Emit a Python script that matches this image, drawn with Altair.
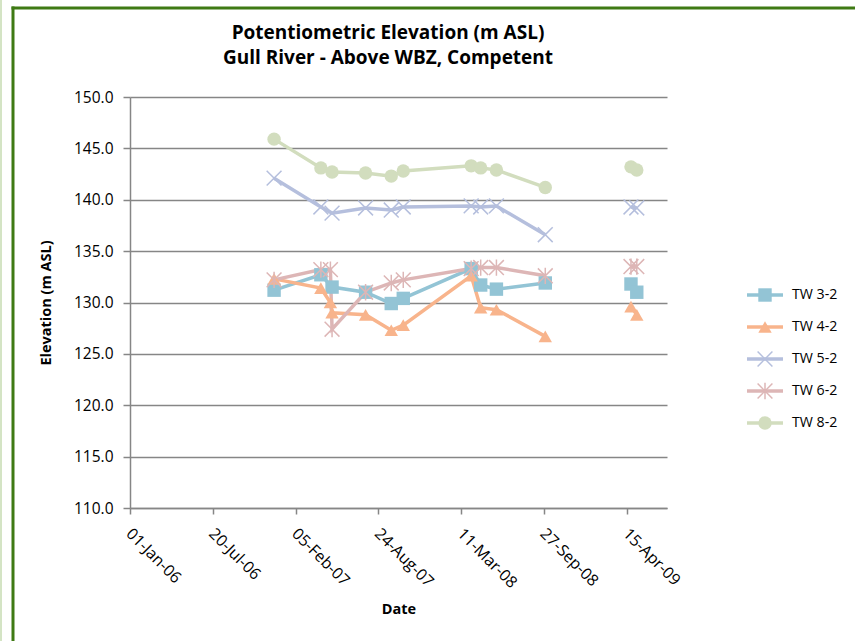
import altair as alt
import pandas as pd

# ---- data ----
series_names = ["TW 3-2", "TW 4-2", "TW 5-2", "TW 6-2", "TW 8-2"]
series_colors = ["#93C4D5", "#F8B48C", "#B5BFDD", "#DDB6B6", "#D2DDBE"]

tw32_dates = ["2006-12-15", "2007-04-07", "2007-05-04", "2007-07-24", "2007-09-24", "2007-10-23",
              "2008-04-04", "2008-04-27", "2008-06-04", "2008-09-30", "2009-04-25", "2009-05-09"]
tw32_vals = [131.2, 132.7, 131.5, 131.0, 129.9, 130.4, 133.3, 131.7, 131.3, 131.9, 131.8, 131.0]

tw42_dates = ["2006-12-15", "2007-04-07", "2007-04-30", "2007-05-04", "2007-07-24", "2007-09-24",
              "2007-10-23", "2008-04-04", "2008-04-27", "2008-06-04", "2008-09-30", "2009-04-25", "2009-05-09"]
tw42_vals = [132.3, 131.4, 130.0, 129.0, 128.8, 127.3, 127.8, 132.6, 129.5, 129.3, 126.7, 129.6, 128.8]

tw52_dates = ["2006-12-15", "2007-04-07", "2007-05-04", "2007-07-24", "2007-09-24", "2007-10-23",
              "2008-04-04", "2008-04-27", "2008-06-04", "2008-09-30", "2009-04-25", "2009-05-09"]
tw52_vals = [142.1, 139.3, 138.7, 139.2, 139.0, 139.3, 139.4, 139.3, 139.4, 136.6, 139.3, 139.2]

tw62_dates = ["2006-12-15", "2007-04-07", "2007-04-30", "2007-05-04", "2007-07-24", "2007-09-24",
              "2007-10-23", "2008-04-04", "2008-04-27", "2008-06-04", "2008-09-30", "2009-04-25", "2009-05-09"]
tw62_vals = [132.2, 133.2, 133.2, 127.4, 131.0, 131.9, 132.2, 133.3, 133.4, 133.4, 132.6, 133.5, 133.5]

tw82_dates = ["2006-12-15", "2007-04-07", "2007-05-04", "2007-07-24", "2007-09-24", "2007-10-23",
              "2008-04-04", "2008-04-27", "2008-06-04", "2008-09-30", "2009-04-25", "2009-05-09"]
tw82_vals = [145.9, 143.1, 142.7, 142.6, 142.3, 142.8, 143.3, 143.1, 142.9, 141.2, 143.2, 142.9]

gap_start = "2009-01-01"  # readings after this are not joined to earlier ones

x_tick_dates = [(2006, 1, 1), (2006, 7, 20), (2007, 2, 5), (2007, 8, 24),
                (2008, 3, 11), (2008, 9, 27), (2009, 4, 15)]
y_ticks = [110, 115, 120, 125, 130, 135, 140, 145, 150]

title_lines = ["Potentiometric Elevation (m ASL)", "Gull River - Above WBZ, Competent"]

# ---- build table ----
rows = []
for name, ds, vs in zip(series_names,
                        [tw32_dates, tw42_dates, tw52_dates, tw62_dates, tw82_dates],
                        [tw32_vals, tw42_vals, tw52_vals, tw62_vals, tw82_vals]):
    for d, v in zip(ds, vs):
        rows.append({"series": name, "date": d, "value": v,
                     "seg": 2 if d >= gap_start else 1})
df = pd.DataFrame(rows)
legend_df = pd.DataFrame({"series": series_names})

FONT = "Open Sans"
color_scale = alt.Scale(domain=series_names, range=series_colors)
color = alt.Color("series:N", scale=color_scale, legend=None)

x_enc = alt.X(
    "date:T",
    title="Date",
    scale=alt.Scale(type="utc",
                    domain=[alt.DateTime(year=2006, month=1, date=1, utc=True),
                            alt.DateTime(year=2009, month=7, date=21, utc=True)]),
    axis=alt.Axis(values=[alt.DateTime(year=y, month=m, date=d, utc=True) for y, m, d in x_tick_dates],
                  format="%d-%b-%y", labelAngle=45, labelAlign="left", labelBaseline="top",
                  labelFontSize=16, labelOffset=4, grid=False, tickSize=6, labelPadding=11,
                  titlePadding=12),
)
y_enc = alt.Y(
    "value:Q",
    title="Elevation (m ASL)",
    scale=alt.Scale(domain=[110, 150], nice=False, zero=False),
    axis=alt.Axis(values=y_ticks, format=".1f", grid=True, tickSize=7, labelPadding=10,
                  labelFontSize=15.5, titlePadding=20),
)

base = alt.Chart(df)
lines = base.mark_line(strokeWidth=3.5, clip=False).encode(
    x=x_enc, y=y_enc, color=color, detail="seg:N", order="date:T")

shape_scale = alt.Scale(
    domain=series_names,
    range=["square", "triangle-up", "M-1,-1L1,1M-1,1L1,-1",
           "M-1,-1L1,1M-1,1L1,-1M0,-1.1L0,1.1", "circle"])

filled_pts = base.transform_filter(
    alt.FieldOneOfPredicate(field="series", oneOf=["TW 3-2", "TW 4-2", "TW 8-2"])
).mark_point(filled=True, opacity=1, size=180).encode(
    x="date:T", y="value:Q", color=color,
    shape=alt.Shape("series:N", scale=shape_scale, legend=None))

stroked_pts = base.transform_filter(
    alt.FieldOneOfPredicate(field="series", oneOf=["TW 5-2", "TW 6-2"])
).mark_point(filled=False, opacity=1, size=220, strokeWidth=1.5).encode(
    x="date:T", y="value:Q", color=color,
    shape=alt.Shape("series:N", scale=shape_scale, legend=None))

main = alt.layer(lines, filled_pts, stroked_pts)

# ---- custom legend (line + marker + label) ----
leg_y = alt.Y("series:N", axis=None, scale=alt.Scale(type="point", domain=series_names,
                                                        range=[198, 326], padding=0))
lb = alt.Chart(legend_df)
leg_line = lb.mark_rule(strokeWidth=3.5).encode(
    y=leg_y, x=alt.value(617), x2=alt.value(653), color=color)
leg_filled = lb.transform_filter(
    alt.FieldOneOfPredicate(field="series", oneOf=["TW 3-2", "TW 4-2", "TW 8-2"])
).mark_point(filled=True, opacity=1, size=180).encode(
    y=leg_y, x=alt.value(635), color=color,
    shape=alt.Shape("series:N", scale=shape_scale, legend=None))
leg_stroked = lb.transform_filter(
    alt.FieldOneOfPredicate(field="series", oneOf=["TW 5-2", "TW 6-2"])
).mark_point(filled=False, opacity=1, size=220, strokeWidth=1.5).encode(
    y=leg_y, x=alt.value(635), color=color,
    shape=alt.Shape("series:N", scale=shape_scale, legend=None))
leg_text = lb.mark_text(align="left", baseline="middle", font=FONT, fontSize=14.2,
                        color="#000000").encode(
    y=leg_y, x=alt.value(662), text="series:N")
legend_layer = alt.layer(leg_line, leg_filled, leg_stroked, leg_text)

# ---- title as text ----
title_df = pd.DataFrame({"line": title_lines})
title_y = alt.Y("line:N", axis=None, scale=alt.Scale(type="point", domain=title_lines,
                                                       range=[-64, -39], padding=0))
title_layer = alt.Chart(title_df).mark_text(
    align="center", baseline="middle", font=FONT, fontSize=19, fontWeight="bold",
    color="#000000").encode(y=title_y, x=alt.value(258), text="line:N")

# ---- outer frame (top and left edges visible) ----
frame_df = pd.DataFrame({"k": [0]})
frame_top = alt.Chart(frame_df).mark_rule(stroke="#3F7A14", strokeWidth=3).encode(
    x=alt.value(-118.5), x2=alt.value(725), y=alt.value(-89))
frame_left = alt.Chart(frame_df).mark_rule(stroke="#3F7A14", strokeWidth=3).encode(
    x=alt.value(-117), y=alt.value(-90.5), y2=alt.value(544))
edge = alt.Chart(frame_df).mark_rule(stroke="#A9C98A", strokeWidth=1).encode(
    x=alt.value(-129), y=alt.value(-97), y2=alt.value(544))

chart = alt.layer(main, legend_layer, title_layer, frame_top, frame_left, edge).resolve_scale(
    y="independent"
).properties(
    width=537, height=411,
    autosize=alt.AutoSizeParams(type="none"),
    padding={"left": 130, "top": 97, "right": 191, "bottom": 133},
    background="#FFFFFF",
).configure_view(stroke=None).configure_axis(
    labelFont=FONT, labelFontSize=15, labelColor="#000000",
    titleFont=FONT, titleFontSize=14.5, titleFontWeight="bold", titleColor="#000000",
    domainColor="#868686", domainWidth=1.5, tickColor="#868686", tickWidth=1.5,
    gridColor="#868686", gridWidth=1.3,
)

chart.save("out.html", embed_options={"renderer": "svg", "actions": False})
